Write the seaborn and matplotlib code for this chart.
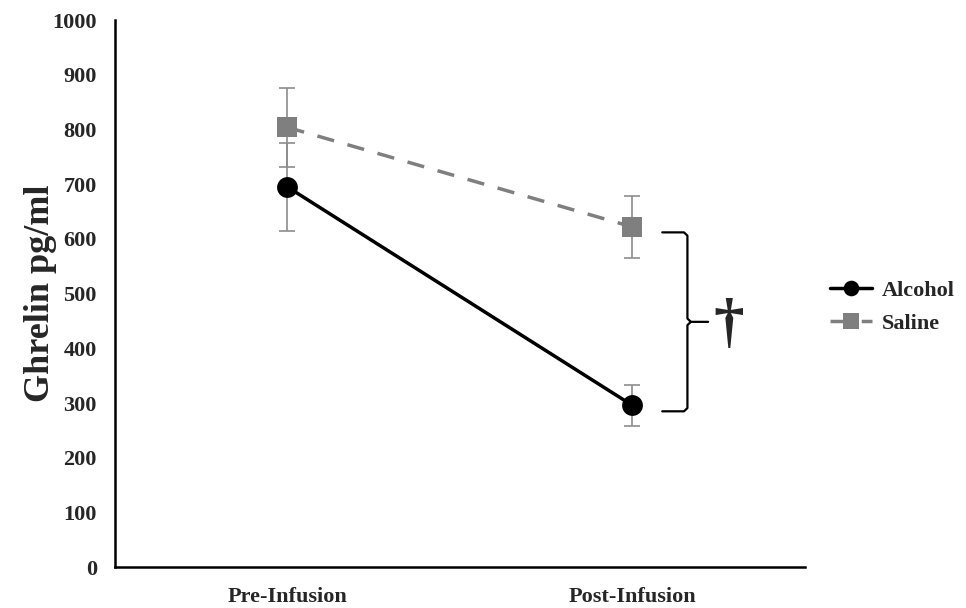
import matplotlib.pyplot as plt
import seaborn as sns
import pandas as pd

timepoints = ["Pre-Infusion", "Post-Infusion"]
alcohol_mean = [695, 296]
alcohol_err = [80, 37]
saline_mean = [804, 622]
saline_err = [72, 57]

df = pd.DataFrame({
    "time": timepoints * 2,
    "ghrelin": alcohol_mean + saline_mean,
    "group": ["Alcohol"] * 2 + ["Saline"] * 2,
})

sns.set_style("white")
plt.rcParams["font.family"] = ["Liberation Serif", "DejaVu Serif"]
plt.rcParams["font.weight"] = "bold"

fig = plt.figure(figsize=(9.66, 6.08), dpi=100)
ax = fig.add_axes([0.119, 0.067, 0.714, 0.9])

# error bars first so they sit under the markers
x_pos = [0, 1]
ax.errorbar(x_pos, saline_mean, yerr=saline_err, fmt="none", ecolor="#8c8c8c",
            elinewidth=1.2, capsize=6, capthick=1.2, zorder=1)
ax.errorbar(x_pos, alcohol_mean, yerr=alcohol_err, fmt="none", ecolor="#8c8c8c",
            elinewidth=1.2, capsize=6, capthick=1.2, zorder=1)

sns.lineplot(data=df, x="time", y="ghrelin", hue="group", style="group",
             palette={"Alcohol": "black", "Saline": "#7f7f7f"},
             dashes={"Alcohol": "", "Saline": (5, 4)},
             markers={"Alcohol": "o", "Saline": "s"},
             markersize=15, linewidth=2.5, markeredgewidth=0, ax=ax, zorder=3)

ax.set_xlim(-0.5, 1.5)
ax.set_ylim(0, 1000)
ax.set_yticks(range(0, 1001, 100))
ax.set_xlabel("")
ax.set_ylabel("Ghrelin pg/ml", fontsize=26, fontweight="bold")
ax.yaxis.set_label_coords(-0.084, 0.5)
ax.tick_params(axis="y", length=0, labelsize=16, pad=13)
ax.tick_params(axis="x", length=0, labelsize=16, pad=14)
for lab in ax.get_xticklabels() + ax.get_yticklabels():
    lab.set_fontweight("bold")
sns.despine(ax=ax)
ax.spines["left"].set_color("black")
ax.spines["bottom"].set_color("black")
ax.spines["left"].set_linewidth(1.8)
ax.spines["bottom"].set_linewidth(1.8)

# significance bracket between post-infusion groups
bx0, bx1, btip = 1.087, 1.16, 1.22
ytop, ybot = 612, 285
ymid = (ytop + ybot) / 2
ax.plot([bx0, bx1 - 0.01, bx1, bx1, bx1 + 0.01, btip], [ytop, ytop, ytop - 6, ymid + 6, ymid, ymid],
        color="black", lw=1.6, clip_on=False)
ax.plot([bx0, bx1 - 0.01, bx1, bx1, bx1 + 0.01], [ybot, ybot, ybot + 6, ymid - 6, ymid],
        color="black", lw=1.6, clip_on=False)
ax.text(1.28, ymid - 8, "†", fontsize=44, fontweight="bold", ha="center", va="center")

leg = ax.legend(loc="center left", bbox_to_anchor=(0.859, 0.495),
                bbox_transform=fig.transFigure, frameon=False, borderpad=0,
                borderaxespad=0, fontsize=16, handlelength=1.9, handletextpad=0.45,
                labelspacing=0.55, markerscale=0.75)
for t in leg.get_texts():
    t.set_fontweight("bold")

fig.savefig("out.png", dpi=100)
